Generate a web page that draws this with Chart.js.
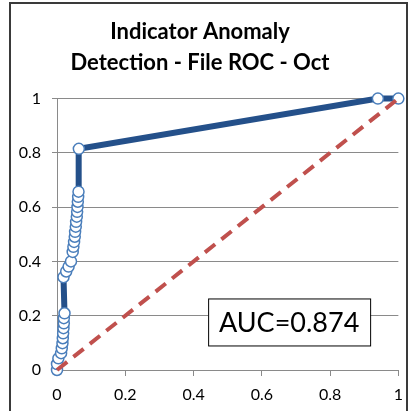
<!DOCTYPE html>
<html>
<head>
<meta charset="utf-8">
<script src="https://cdn.jsdelivr.net/npm/chart.js@4.4.1/dist/chart.umd.min.js"></script>
<style>
  html, body { margin: 0; padding: 0; background: #fff; overflow: hidden; }
  #wrap { position: relative; width: 412px; height: 411px; }
  #frame { position: absolute; left: 9px; top: 2px; width: 399px; height: 430px; border: 2px solid #3a3a3a; box-sizing: border-box; pointer-events: none; }
</style>
</head>
<body>
<div id="wrap">
  <canvas id="roc" width="412" height="411"></canvas>
  <div id="frame"></div>
</div>
<script>
// ZWNJ keeps Lato from joining "ti" into a ligature
const titleLines = ['Indicator Anomaly', 'Detec\u200Ction - File ROC - Oct'];
const aucLabel = 'AUC=0.874';

// false positive rate / true positive rate
const fpr = [0, 0.000, 0.004, 0.012, 0.014, 0.016, 0.017, 0.018, 0.019, 0.020, 0.020, 0.022,
  0.019, 0.027, 0.034, 0.041,
  0.046, 0.048, 0.050, 0.052, 0.053, 0.055, 0.056, 0.058, 0.059, 0.060, 0.061, 0.062, 0.063,
  0.064, 0.94, 1];
const tpr = [0, 0.022, 0.043, 0.062, 0.080, 0.099, 0.117, 0.135, 0.154, 0.172, 0.191, 0.209,
  0.342, 0.363, 0.381, 0.400,
  0.435, 0.454, 0.472, 0.491, 0.509, 0.528, 0.546, 0.565, 0.583, 0.601, 0.620, 0.638, 0.657,
  0.815, 1, 1];
const chanceX = [0, 1];
const chanceY = [0, 1];
const ticks = [0, 0.2, 0.4, 0.6, 0.8, 1];

const rocPoints = fpr.map((x, i) => ({ x, y: tpr[i] }));
const chancePoints = chanceX.map((x, i) => ({ x, y: chanceY[i] }));

const aucBox = {
  id: 'aucBox',
  afterDraw(chart) {
    const { ctx, scales } = chart;
    const cx = scales.x.getPixelForValue(0.68);
    const cy = scales.y.getPixelForValue(0.177);
    const w = 162, h = 47;
    ctx.save();
    ctx.fillStyle = '#fff';
    ctx.fillRect(cx - w / 2, cy - h / 2, w, h);
    ctx.strokeStyle = '#000';
    ctx.lineWidth = 1;
    ctx.strokeRect(cx - w / 2 + 0.5, cy - h / 2 + 0.5, w, h);
    ctx.fillStyle = '#000';
    ctx.font = '27px Lato';
    ctx.textAlign = 'center';
    ctx.textBaseline = 'middle';
    ctx.fillText(aucLabel, cx, cy + 1);
    ctx.restore();
  }
};

const fmt = v => String(Math.round(v * 10) / 10);

new Chart(document.getElementById('roc'), {
  type: 'scatter',
  data: {
    datasets: [
      {
        data: rocPoints,
        showLine: true,
        borderColor: '#24508A',
        borderWidth: 6,
        pointRadius: 5.5,
        pointBorderWidth: 1.5,
        pointBorderColor: '#4A7EBB',
        pointBackgroundColor: '#fff',
        clip: false,
        order: 2
      },
      {
        data: chancePoints,
        showLine: true,
        borderColor: '#C0504D',
        borderWidth: 4,
        borderDash: [13, 8],
        pointRadius: 0,
        clip: false,
        order: 1
      }
    ]
  },
  options: {
    responsive: false,
    animation: false,
    layout: { padding: { left: 0, right: 12, top: 0, bottom: 0 } },
    plugins: {
      legend: { display: false },
      tooltip: { enabled: false },
      title: {
        display: true,
        text: titleLines,
        color: '#000',
        font: { family: 'Lato', size: 22, weight: 'bold', lineHeight: 1.4 },
        padding: { top: 17, bottom: 20 }
      }
    },
    scales: {
      x: {
        type: 'linear',
        min: 0, max: 1,
        afterBuildTicks: s => { s.ticks = ticks.map(v => ({ value: v })); },
        afterFit: s => { s.height = 41; },
        ticks: { color: '#000', font: { family: 'Lato', size: 16 }, padding: 9, callback: fmt },
        grid: { display: true, drawOnChartArea: false, drawTicks: true, tickLength: 6, color: '#8a8a8a' },
        border: { color: '#8a8a8a', width: 1 }
      },
      y: {
        type: 'linear',
        min: 0, max: 1,
        afterBuildTicks: s => { s.ticks = ticks.map(v => ({ value: v })); },
        afterFit: s => { s.width = 57; },
        ticks: { color: '#000', font: { family: 'Lato', size: 16 }, padding: 11, callback: fmt },
        grid: { color: '#8a8a8a', tickLength: 5 },
        border: { color: '#8a8a8a', width: 1 }
      }
    }
  },
  plugins: [aucBox]
});
</script>
</body>
</html>
